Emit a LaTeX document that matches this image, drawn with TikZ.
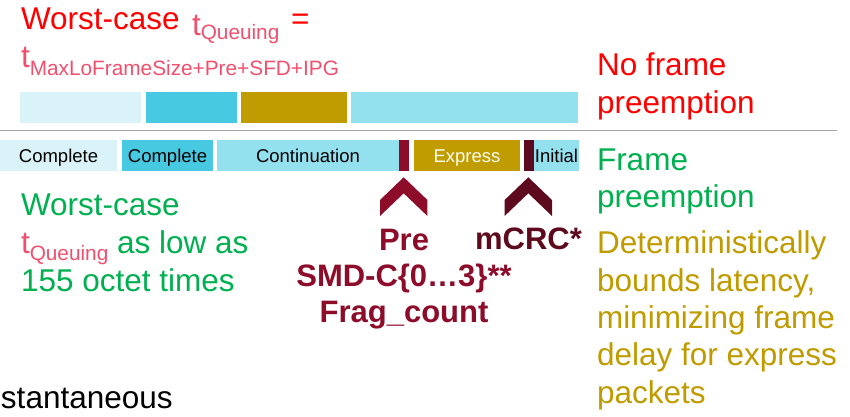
\documentclass[tikz,border=0pt]{standalone}
\usepackage{fontspec}
\setmainfont{Liberation Sans}

% palette
\definecolor{hdred}{HTML}{FF0000}
\definecolor{tpink}{HTML}{F0506E}
\definecolor{okgreen}{HTML}{00B050}
\definecolor{goldtxt}{HTML}{BF9B00}
\definecolor{goldbar}{HTML}{C09C00}
\definecolor{paleblue}{HTML}{DAF3F8}
\definecolor{midblue}{HTML}{48C9E2}
\definecolor{skyblue}{HTML}{93E0EE}
\definecolor{prered}{HTML}{8C0C2A}
\definecolor{crcred}{HTML}{5E0A1E}
\definecolor{rulegray}{HTML}{A6A6A6}

% "t" with a lowered subscript
\newcommand\tsub[2][7pt]{t\smash{\raisebox{-#1}{\fontsize{20.8}{24}\selectfont #2}}}

\begin{document}
\begin{tikzpicture}[x=1pt,y=-1pt,
  every node/.style={inner sep=0pt,outer sep=0pt},
  % multi-line nodes: the base anchor sits on the last line
  bigtext/.style={font=\fontsize{31.5}{38}\selectfont,anchor=base west,align=left},
  seg/.style={anchor=north west,minimum height=31pt,text height=13.4pt,text depth=0pt,
              font=\fontsize{18.5}{22}\selectfont,text=black},
  fieldlabel/.style={font=\bfseries\fontsize{31}{36}\selectfont,anchor=base,align=center},
  chevron/.pic={\fill (0,0) -- (-23.7,22.7) -- (-23.7,38.7) -- (0,16)
                 -- (23.7,38.7) -- (23.7,22.7) -- cycle;}
]
\useasboundingbox (0,0) rectangle (850,416);

% headline formula
\node[bigtext,text=hdred] (hdA) at (21,29) {Worst-case};
\node[bigtext,text=tpink] (hdT) at (192,35) {\tsub[4pt]{Queuing}};
\node[bigtext,text=hdred] (hdEq) at (291,29) {=};
\node[bigtext,text=tpink] (hdB) at (21,67.5) {\tsub[7.5pt]{MaxLoFrameSize+Pre+SFD+IPG}};

% transmission without preemption
\node[seg,minimum width=121pt,fill=paleblue] (u1) at (20,92) {};
\node[seg,minimum width=91pt,fill=midblue]   (u2) at (146,92) {};
\node[seg,minimum width=106pt,fill=goldbar]  (u3) at (241,92) {};
\node[seg,minimum width=227pt,fill=skyblue]  (u4) at (351,92) {};

% divider
\coordinate (ruleL) at (0,130.5);
\coordinate (ruleR) at (837,130.5);
\draw[rulegray,line width=1.6pt] (ruleL) -- (ruleR);

% transmission with preemption
\node[seg,minimum width=117pt,fill=paleblue] (c1) at (0,140) {Complete};
\node[seg,minimum width=91pt,fill=midblue]   (c2) at (122,140) {Complete};
\node[seg,minimum width=182pt,fill=skyblue]  (c3) at (217,140) {Continuation};
\node[seg,minimum width=10pt,fill=prered]    (pre) at (399,140) {};
\node[seg,minimum width=106pt,fill=goldbar,text=white!94!yellow] (ex) at (414,140) {Express};
\node[seg,minimum width=10pt,fill=crcred]    (crc) at (524,140) {};
\node[seg,minimum width=45pt,fill=skyblue]   (ini) at (534,140) {Initial};

% markers under the inserted fields
\pic[fill=prered] (chevPre) at (403.7,177.3) {chevron};
\pic[fill=crcred] (chevCrc) at (528.3,177.3) {chevron};

\node[fieldlabel,text=prered] (preLbl) at (404,322) {Pre\\SMD-C\{0…3\}**\\Frag\_count};
\node[fieldlabel,text=crcred] (crcLbl) at (528.5,249.5) {mCRC*};

% left-hand note
\node[bigtext,text=okgreen] (gain) at (21,291)
  {Worst-case\\{\color{tpink}\tsub{Queuing}} as low as\\155 octet times};

% right-hand captions
\node[bigtext,text=hdred,font=\fontsize{31.5}{38}\selectfont] (noPre) at (597,113) {No frame\\preemption};
\node[bigtext,text=okgreen,font=\fontsize{31.5}{37}\selectfont] (withPre) at (597,207) {Frame\\preemption};
\node[bigtext,text=goldtxt,font=\fontsize{31.5}{37.3}\selectfont] (benefit) at (597,403)
  {Deterministically\\bounds latency,\\minimizing frame\\delay for express\\packets};

\node[bigtext,text=black] (cut) at (1,408) {stantaneous};
\end{tikzpicture}
\end{document}
